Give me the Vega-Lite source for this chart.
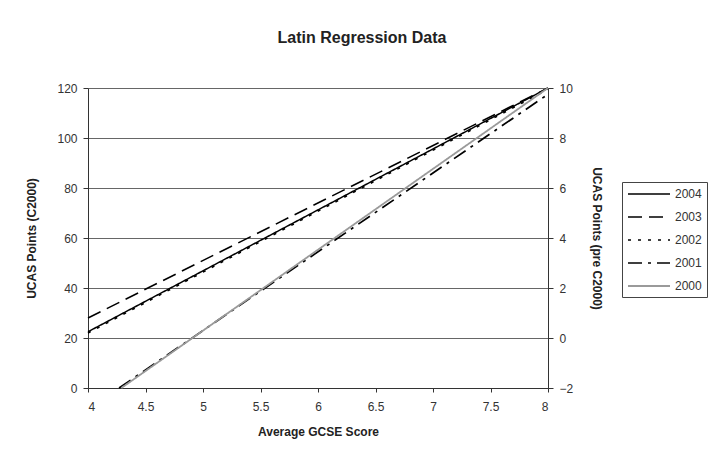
{
  "$schema": "https://vega.github.io/schema/vega-lite/v6.json",
  "width": 460,
  "height": 300,
  "autosize": "none",
  "padding": {"left": 88, "top": 88, "right": 163, "bottom": 75},
  "background": "white",
  "title": {"text": "Latin Regression Data", "fontSize": 16, "font": "Liberation Sans", "fontWeight": "bold", "color": "#222", "offset": 36, "anchor": "middle", "dx": 44},
  "datasets": {
    "c2000": [
      {"series": "2004", "score": 4, "points": 22.5},
      {"series": "2004", "score": 8, "points": 120},
      {"series": "2003", "score": 4, "points": 28},
      {"series": "2003", "score": 8, "points": 120},
      {"series": "2002", "score": 4, "points": 22},
      {"series": "2002", "score": 8, "points": 119.5}
    ],
    "pre": [
      {"series": "2001", "score": 4.27, "points": -2},
      {"series": "2001", "score": 8, "points": 9.75},
      {"series": "2000", "score": 4.29, "points": -2},
      {"series": "2000", "score": 8, "points": 10}
    ]
  },
  "config": {
    "font": "Liberation Sans",
    "view": {"stroke": null},
    "axis": {"labelFont": "Liberation Sans", "labelFontSize": 12, "labelColor": "#333", "titleFont": "Liberation Sans", "titleFontSize": 12, "titleFontWeight": "bold", "titleColor": "#222", "domainColor": "#333", "tickColor": "#333", "gridColor": "#666", "gridWidth": 1, "tickSize": 5},
    "legend": {"orient": "none", "legendX": 534, "legendY": 94, "strokeColor": "#444", "fillColor": "white", "padding": 5, "rowPadding": 10, "symbolType": "M-1,0H6", "symbolSize": 144, "symbolFillColor": "transparent", "labelFontSize": 12, "labelColor": "#333", "labelOffset": 34}
  },
  "encoding": {
    "x": {"field": "score", "type": "quantitative", "scale": {"domain": [4, 8], "nice": false, "zero": false},
      "axis": {"values": [4, 4.5, 5, 5.5, 6, 6.5, 7, 7.5, 8], "format": "~g", "grid": false, "title": "Average GCSE Score", "labelPadding": 9, "titlePadding": 14, "tickSize": 4}},
    "strokeDash": {"field": "series", "type": "nominal",
      "scale": {"domain": ["2004", "2003", "2002", "2001", "2000"], "range": [[1, 0], [14, 7], [3, 7], [14, 6, 3, 6], [1, 0]]}, "legend": {"title": null}},
    "color": {"field": "series", "type": "nominal",
      "scale": {"domain": ["2004", "2003", "2002", "2001", "2000"], "range": ["black", "black", "black", "black", "#9a9a9a"]}, "legend": {"title": null}},
    "strokeWidth": {"field": "series", "type": "nominal",
      "scale": {"domain": ["2004", "2003", "2002", "2001", "2000"], "range": [1.5, 1.8, 1.8, 1.8, 3]}, "legend": {"title": null}}
  },
  "layer": [
    {
      "data": {"name": "c2000"},
      "mark": {"type": "line"},
      "encoding": {
        "y": {"field": "points", "type": "quantitative", "scale": {"domain": [0, 120], "nice": false},
          "axis": {"values": [0, 20, 40, 60, 80, 100, 120], "grid": true, "title": "UCAS Points (C2000)", "titlePadding": 18, "labelPadding": 6}}
      }
    },
    {
      "data": {"name": "pre"},
      "mark": {"type": "line"},
      "encoding": {
        "y": {"field": "points", "type": "quantitative", "scale": {"domain": [-2, 10], "nice": false, "zero": false},
          "axis": {"orient": "right", "values": [-2, 0, 2, 4, 6, 8, 10], "grid": false, "title": "UCAS Points (pre C2000)", "titlePadding": 17, "titleAngle": 90, "labelPadding": 6}}
      }
    }
  ],
  "resolve": {"scale": {"y": "independent"}}
}
